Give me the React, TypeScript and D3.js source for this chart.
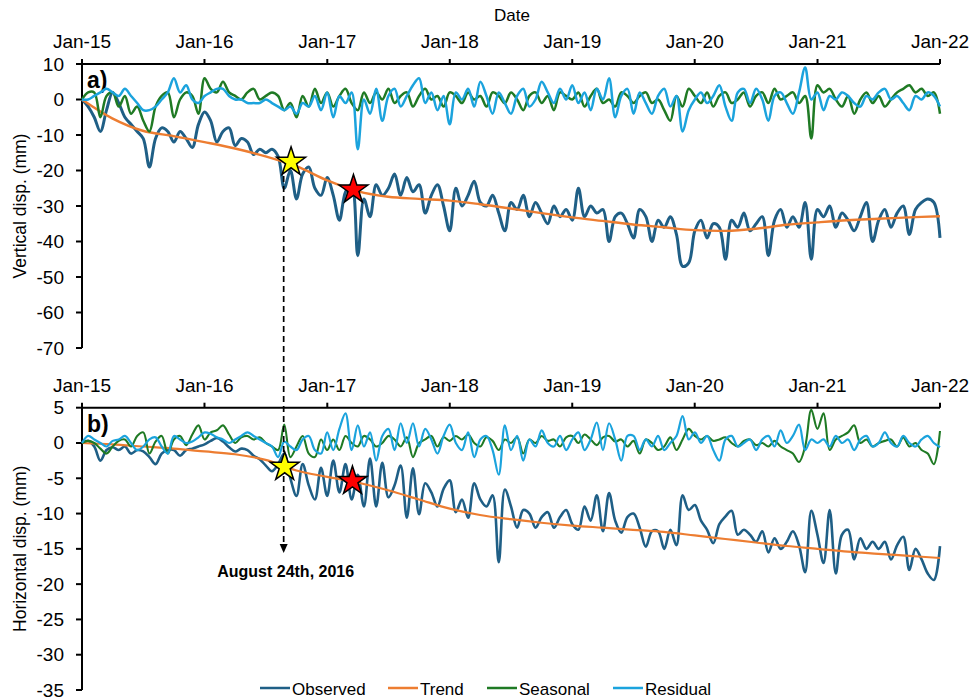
import React from "react";
import * as d3 from "d3";

// ---- time axis ----
const START = new Date(2015, 0, 1);
const END = new Date(2022, 0, 1);
const yearTickLabels = ["Jan-15", "Jan-16", "Jan-17", "Jan-18", "Jan-19", "Jan-20", "Jan-21", "Jan-22"];
const yearTickDates = yearTickLabels.map((_, i) => new Date(2015 + i, 0, 1));

// decomposition samples are evenly spaced over the 7 years (141 acquisitions)
const SAMPLE_COUNT = 141;
const sampleDates = d3.range(SAMPLE_COUNT).map(
  (i) => new Date(START.getTime() + ((END.getTime() - START.getTime()) * i) / (SAMPLE_COUNT - 1))
);
// trend is reported quarterly
const trendDates = d3.timeMonth.range(START, new Date(2022, 0, 2), 3);

// ---- a) vertical displacement (mm) ----
const vertTicks = [10, 0, -10, -20, -30, -40, -50, -60, -70];
const vertObserved = [
  0, -2, -5, -9, -3, 2, -1, -5, -7, -9, -11,
  -19, -11, -8, -9, -12, -9, -11, -13.5, -7, -3.5,
  -6, -12, -9, -8, -13, -11, -12, -15.5, -14, -15,
  -14, -16, -25, -20, -28, -21, -19, -25, -27, -22,
  -27, -34, -26, -24, -44, -28, -33, -24, -27, -25,
  -21, -27, -22, -26, -24, -32, -27, -24, -30, -37,
  -25, -30, -27, -23, -29, -30, -27, -32, -37, -29,
  -31, -27, -33, -29, -32, -35, -30, -33, -31, -34,
  -25, -33, -30, -32, -31, -40, -33, -32, -35, -39,
  -31, -33, -40, -34, -36, -33, -38, -47, -46, -37,
  -34, -39, -35, -36, -45, -34, -36, -32, -37, -35,
  -33, -44, -34, -31, -36, -33, -36, -29, -45, -31,
  -33, -30, -36, -32, -34, -37, -33, -29, -40, -34,
  -31, -36, -32, -30, -38, -31, -29, -28, -29, -39,
];
const vertTrend = [
  0, -5.3, -8.8, -10.3, -12, -13.8, -16, -18.8, -22.8, -25.8,
  -27.4, -28.0, -28.5, -29.5, -30.7, -32, -33.2, -34.2, -35.2, -36.0,
  -36.8, -37.0, -36.4, -35.3, -34.6, -34.0, -33.6, -33.2, -32.9,
];
const vertSeasonal = [
  0, 2, 2, -5, 1, 2, -2, 1, -4, -2, -6,
  -9, -2, 1, 2, -5, 0, 2, 1, -4, 6,
  3, 2, 5, 2, 1, 0, 2, 3, 0, 1,
  2, 1, -3, -1, -5, 1, -2, 3, -1, 2,
  -2, 1, 3, -1, -3, 2, -1, 2, 0, 3,
  -1, 1, 2, -2, 1, 3, 0, 1, -2, 2,
  1, -1, 2, 0, 1, -2, 2, 1, -1, 2,
  0, -3, 1, 2, -1, 1, -3, 2, 1, 0,
  2, -2, 1, 3, -1, 0, -2, 2, 1, -1,
  1, 2, -1, 0, -3, -6, 1, -2, 3, 1,
  -1, 2, -2, 1, 2, -1, 0, 2, -2, 1,
  2, -1, 3, 0, 1, 2, -1, 1, -11, 4,
  2, 3, 0, -2, 1, -4, 0, 2, -1, 1,
  -2, 0, 2, 3, 4, 2, 3, 1, 2, -4,
];
const vertResidual = [
  0, 0, 1, 2, 3, 2, 1, 3, 1, -1, -3,
  -3, -2, 0, 2, 6, 2, 4, 0, -1, 1,
  2, 3, 3, 1, 0, 0, -1, -1, -1, 0,
  -1, -2, -3, -2, -4, -1, -2, 1, -3, 2,
  -5, 1, -1, 2, -14, 0, -4, 3, -6, 1,
  3, -2, 1, 4, 6, -1, 2, -3, 1, -7,
  2, 0, 3, -2, 5, 1, -4, 2, -1, -4,
  1, 3, -2, 0, 5, 2, -1, 3, 0, 4,
  -1, 2, -3, 3, 0, 6, -5, 1, 3, -4,
  2, -1, -4, 1, 3, -2, 1, -9, -3, 0,
  2, -1, 1, 4, -2, -6, 2, 3, -1, 3,
  0, -6, 1, 2, -1, -4, 2, 9, 0, 2,
  -3, 1, 0, 2, 1, -1, -2, 1, 0, 2,
  3, 0, 1, -1, -3, 1, 0, 2, 1, -2,
];

// ---- b) horizontal displacement (mm) ----
const horizTicks = [5, 0, -5, -10, -15, -20, -25, -30, -35];
const horizObserved = [
  0, 0.3, -0.5, -2.5, -1, -0.6, -1, -0.5, -1.5, -1, -1.2,
  -2, -3, -1.5, -1, -1, -1.8, -1, -0.8, -0.5, -0.2,
  0.3, 0.7, 0.2, -0.6, -1.2, -0.8, -1, -1.8, -2.3, -3.2,
  -4.0, -3.0, -1.5, -5, -7.5, -3, -6, -8, -3.5, -7.5,
  -2.5, -7, -3, -8, -4.5, -9, -2.2, -9, -2.8, -7.7,
  -6, -3.2, -10.6, -3.6, -10.1, -5.7, -7, -9, -6.5, -5.3,
  -9.8, -8, -10.6, -5.7, -8, -9, -7.4, -16.9, -6.6, -9,
  -12, -9.5, -10, -12, -10.5, -9.8, -12, -10.5, -9.5, -11.5,
  -12.3, -9, -11, -7.4, -12.5, -7.1, -11, -12.7, -10.5, -10,
  -12, -14.7, -12.5, -12.5, -15, -12.3, -14.5, -7.4, -9.5, -8.8,
  -11, -12.3, -14.2, -11.5, -10.4, -9.6, -13, -12.3, -13, -14,
  -12.5, -15.5, -13.5, -15, -14, -12.5, -14.5, -18.3, -9.6, -13,
  -17, -9.5, -18.5, -13, -12.3, -16.5, -13.5, -15, -14, -15,
  -14, -16.5, -14.5, -13.3, -18, -15, -16.5, -18.5, -19.4, -14.6,
];
const horizTrend = [
  0, -0.2, -0.5, -0.8, -1.2, -1.6, -2.4, -3.9, -4.8, -5.6,
  -6.7, -8.0, -9.3, -10.2, -10.8, -11.3, -11.7, -12.0, -12.3, -12.6,
  -13.1, -13.6, -14.1, -14.6, -15.0, -15.4, -15.7, -16.0, -16.3,
];
const horizSeasonal = [
  0, 0.3, 0, -0.8, -1.5, -0.5, 0.3, 0.5, -0.5, 1, 1.5,
  -1.5, 0.2, 1, -1.5, 0.5, 1, -0.3, 1.2, 2.5, 0.5,
  1.5, 1.8, 2.5, 1.2, 0, 0.8, 1, 0.5, 0.8, 0,
  -0.5, -1, 2.6, -2, -0.5, 1, -1.5, -2, 0.5, -1,
  0.5, -1, 1, 0, -0.5, 1, 0.5, -0.5, 0, 1,
  0.5, -0.5, 0.8, -2, 0, 0.5, 1, -0.5, 0.8, 0.3,
  1, 0.5, 1.2, 0, -0.5, 0.8, 0.3, -1, 0.5, 0,
  0.8, -1.5, 0.5, 0, 1, 0.3, 0.5, -0.5, 0.8, 1,
  0, 1.2, 0.5, -0.3, 0.8, 1, 0.2, 0.5, -0.5, 0.3,
  -1.5, 0.5, 0, -1, -0.5, 0.8, -1, 0.5, 2, 1,
  0.5, 1, 0.3, 0.5, 0.8, 0, -0.5, 0.3, 0.5, -0.3,
  0, -0.5, 0.3, -0.5, -1, -1.5, -2.7, -0.5, 4.7, 2,
  4.2, -1, 0.5, 1, 1.5, 2.5, 0, 0.5, -0.5, 0,
  0.3, 0.5, -0.5, 0.8, -0.5, 0, -1, -1.5, -3, 1.7,
];
const horizResidual = [
  0, 1, 0.5, 0, -0.5, 0.3, 0.5, 1, 0, -1, -0.5,
  0.5, 0.8, -0.5, -1.5, 1, 0.5, 0, 0.2, 0.8, 1.5,
  1.3, 0.8, 0.5, 0, 0.5, 1, 1.5, 1, 0.5, 0,
  -0.5, -2, 0.2, -0.5, -1, 0.5, 1, -1, -1.5, 1.5,
  -1, 2, 4.2, -1, 2.5, -0.5, 1.5, -2.5, 1, 2,
  -1, 2.8, 0, 2.8, -0.5, 2, 0.5, -1.5, 1, 2.6,
  0, -1, 1.5, -2, 0.5, 1, -1, -4.5, 2.5, -1,
  1, -2.5, 0.5, -0.5, 1.8, 0, -0.5, 1, -1, 0.5,
  1.5, -1, 0.5, 2.9, -1, 2.8, 0.5, -2.5, 1, 1,
  -1, 0.5, -0.5, 1, -1, 0, 1, 3.8, 0.5, 1.5,
  0, 1, -1, -2.5, 0.5, 1, -0.5, 0, 0.5, -1,
  0.5, 1, -0.5, 1.8, 0, 1, 2.6, -1, 0.5, 0,
  0.5, -0.5, 1, 0, 0.5, -1, 0.5, 1, -0.5, 0,
  1.5, 0, -0.5, 1, 0, -0.5, 0.5, 1, 0, -0.6,
];

// ---- event markers ----
const eventDate = new Date(2016, 7, 24);
const eventLabel = "August 24th, 2016";
const vertStars = [
  { date: new Date(2016, 8, 15), value: -17.6, color: "#ffff00" },
  { date: new Date(2017, 2, 20), value: -25.4, color: "#ff0000" },
];
const horizStars = [
  { date: new Date(2016, 7, 27), value: -3.4, color: "#ffff00" },
  { date: new Date(2017, 2, 17), value: -5.4, color: "#ff0000" },
];

const legendItems = ["Observed", "Trend", "Seasonal", "Residual"];

const COLORS: Record<string, string> = {
  Observed: "#1f5f86",
  Trend: "#ed7d31",
  Seasonal: "#1f7a24",
  Residual: "#1ba3dd",
};

const FONT = "'Liberation Sans', Arial, Helvetica, sans-serif";

const x = d3.scaleTime().domain([START, END]).range([82, 940]);
const curve = d3.curveCatmullRom.alpha(0.5);

type Star = { date: Date; value: number; color: string };

function Panel(props: {
  y: d3.ScaleLinear<number, number>;
  ticks: number[];
  title: string;
  tag: string;
  observed: number[];
  trend: number[];
  seasonal: number[];
  residual: number[];
  widths: number[];
}) {
  const { y, ticks, title, tag, observed, trend, seasonal, residual, widths } = props;
  const [y0, y1] = y.range();
  const line = d3
    .line<number>()
    .x((_, i) => x(sampleDates[i]))
    .y((d) => y(d))
    .curve(curve);
  const trendLine = d3
    .line<number>()
    .x((_, i) => x(trendDates[i]))
    .y((d) => y(d))
    .curve(curve);
  const titleY = (y0 + y1) / 2;
  return (
    <g>
      {/* top date axis */}
      <line x1={x.range()[0]} x2={x.range()[1]} y1={y0} y2={y0} stroke="#000" strokeWidth={2} />
      {yearTickDates.map((d, i) => (
        <g key={i}>
          <line x1={x(d)} x2={x(d)} y1={y0 - 5} y2={y0} stroke="#000" strokeWidth={2} />
          <text x={x(d)} y={y0 - 16} textAnchor="middle" fontSize={19} fontFamily={FONT} fill="#000">
            {yearTickLabels[i]}
          </text>
        </g>
      ))}
      {/* left value axis */}
      <line x1={82} x2={82} y1={y0} y2={y1} stroke="#000" strokeWidth={2} />
      {ticks.map((t) => (
        <g key={t}>
          <line x1={76} x2={82} y1={y(t)} y2={y(t)} stroke="#000" strokeWidth={2} />
          <text x={64} y={y(t) + 6.5} textAnchor="end" fontSize={19} fontFamily={FONT} fill="#000">
            {t}
          </text>
        </g>
      ))}
      <text
        transform={`translate(26,${titleY}) rotate(-90)`}
        textAnchor="middle"
        fontSize={17.5}
        fontFamily={FONT}
        fill="#000"
      >
        {title}
      </text>
      <text x={87} y={y0 + 24} fontSize={23} fontWeight="bold" fontFamily={FONT} fill="#000">
        {tag}
      </text>
      {/* series */}
      <path d={line(observed) as string} fill="none" stroke={COLORS.Observed} strokeWidth={widths[0]} strokeLinejoin="round" />
      <path d={trendLine(trend) as string} fill="none" stroke={COLORS.Trend} strokeWidth={widths[1]} strokeLinejoin="round" />
      <path d={line(seasonal) as string} fill="none" stroke={COLORS.Seasonal} strokeWidth={widths[2]} strokeLinejoin="round" />
      <path d={line(residual) as string} fill="none" stroke={COLORS.Residual} strokeWidth={widths[3]} strokeLinejoin="round" />
    </g>
  );
}

export default function App() {
  const yA = d3.scaleLinear().domain([10, -70]).range([64, 348]);
  const yB = d3.scaleLinear().domain([5, -35]).range([407.7, 690]);
  const ex = x(eventDate);
  const dashTop = yA(vertStars[0].value) + 14;
  const arrowTip = 553;
  const legendX = [260, 388, 487, 613];
  const starPath = d3.symbol(d3.symbolStar, 258)() as string;
  return (
    <svg
      width={974}
      height={699}
      viewBox="0 0 974 699"
      style={{ position: "absolute", left: 0, top: 0, display: "block", background: "#fff" }}
    >
      <rect width={974} height={699} fill="#fff" />
      <text x={512} y={21} textAnchor="middle" fontSize={17} fontFamily={FONT} fill="#000">
        Date
      </text>
      <Panel
        y={yA}
        ticks={vertTicks}
        title="Vertical disp. (mm)"
        tag="a)"
        observed={vertObserved}
        trend={vertTrend}
        seasonal={vertSeasonal}
        residual={vertResidual}
        widths={[3, 2.4, 2.5, 2.5]}
      />
      <Panel
        y={yB}
        ticks={horizTicks}
        title="Horizontal disp. (mm)"
        tag="b)"
        observed={horizObserved}
        trend={horizTrend}
        seasonal={horizSeasonal}
        residual={horizResidual}
        widths={[2.6, 2.2, 2.1, 2.2]}
      />
      {/* event marker: dashed drop line with arrow */}
      <line x1={ex} x2={ex} y1={dashTop} y2={arrowTip - 8} stroke="#000" strokeWidth={1.7} strokeDasharray="6,4" />
      <path d={`M${ex - 4},${arrowTip - 9}L${ex + 4},${arrowTip - 9}L${ex},${arrowTip}Z`} fill="#000" />
      <text x={ex + 2} y={576.5} textAnchor="middle" fontSize={16} fontWeight="bold" fontFamily={FONT} fill="#000">
        {eventLabel}
      </text>
      {/* stars drawn above the series */}
      {[
        { s: vertStars, y: yA },
        { s: horizStars, y: yB },
      ].map((grp, gi) =>
        grp.s.map((s, i) => (
          <path
            key={`${gi}-${i}`}
            d={starPath}
            transform={`translate(${x(s.date)},${grp.y(s.value)})`}
            fill={s.color}
            stroke="#000"
            strokeWidth={1.5}
          />
        ))
      )}
      {/* legend */}
      {legendItems.map((name, i) => (
        <g key={name}>
          <line x1={legendX[i]} x2={legendX[i] + 30} y1={688} y2={688} stroke={COLORS[name]} strokeWidth={2.5} />
          <text x={legendX[i] + 32} y={694.5} fontSize={17} fontFamily={FONT} fill="#000">
            {name}
          </text>
        </g>
      ))}
    </svg>
  );
}
